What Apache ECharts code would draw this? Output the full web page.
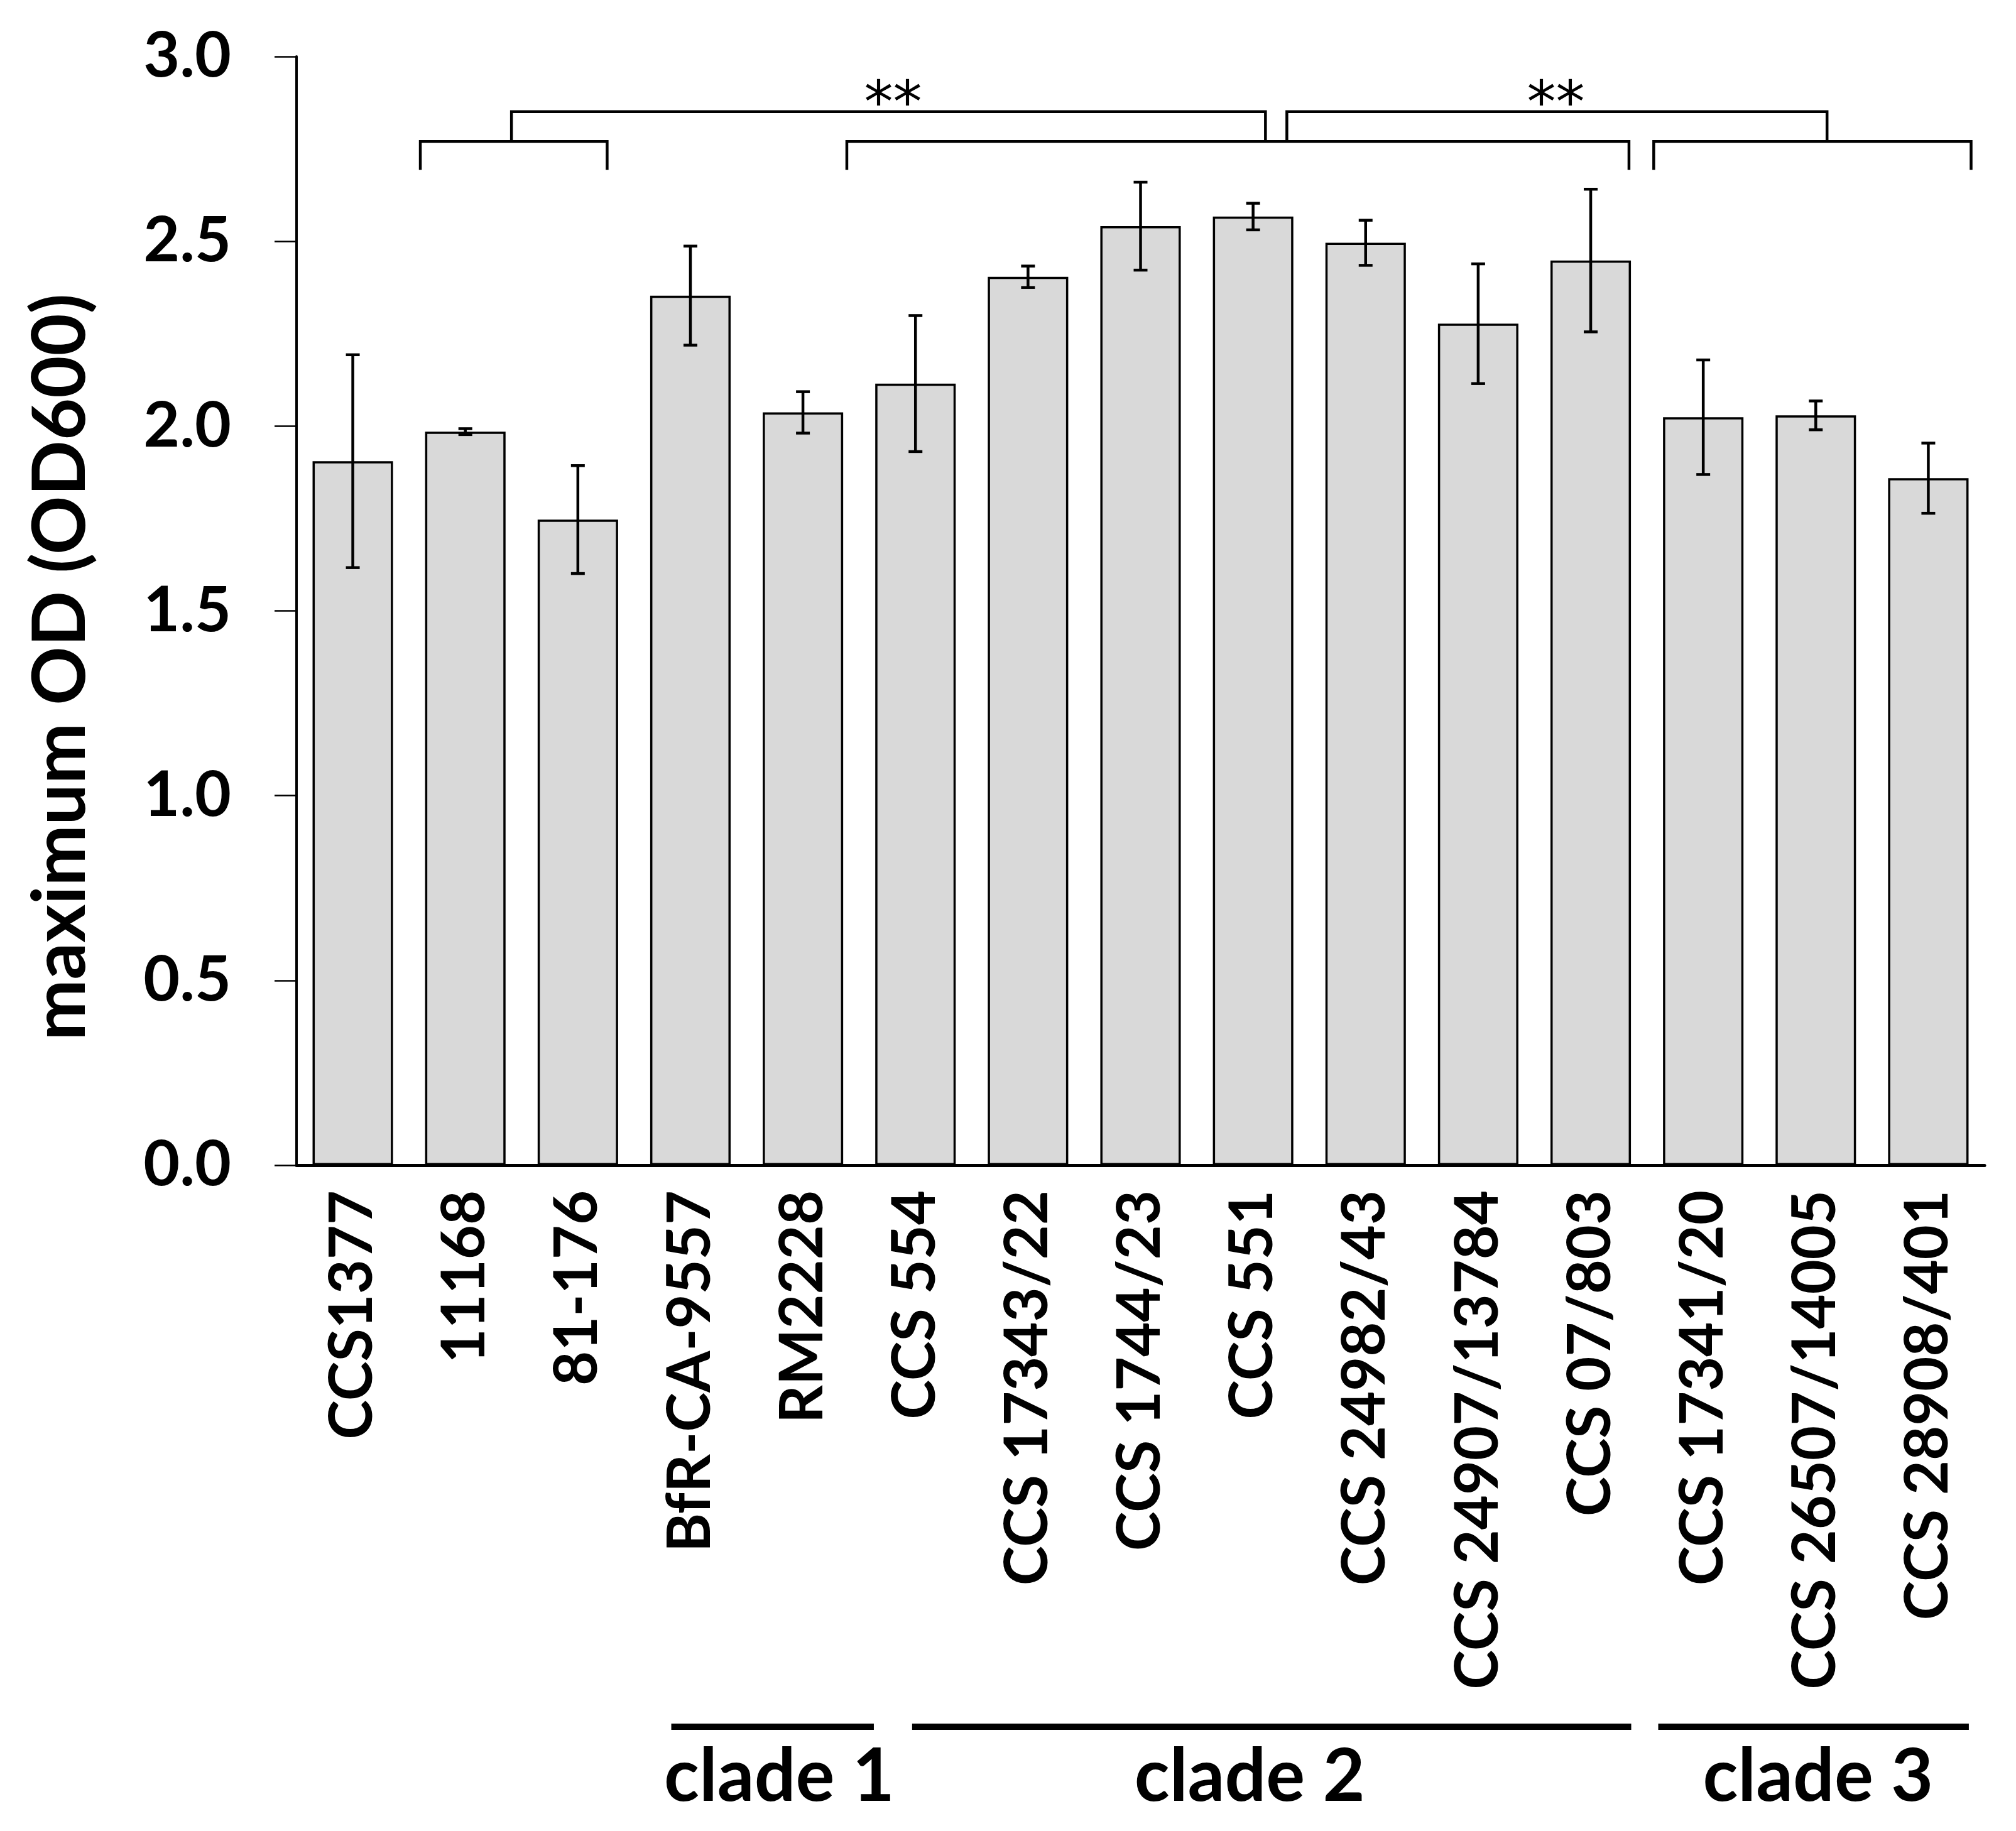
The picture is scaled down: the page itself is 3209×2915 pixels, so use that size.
<!DOCTYPE html>
<html>
<head>
<meta charset="utf-8">
<title>maximum OD</title>
<script src="https://cdn.jsdelivr.net/npm/echarts@6/dist/echarts.min.js"></script>
<style>
  html, body { margin: 0; padding: 0; background: #fff; }
  #chart { width: 3209px; height: 2915px; }
</style>
</head>
<body>
<div id="chart"></div>
<script>
// strains on the x axis
var strains = ['CCS1377', '11168', '81-176', 'BfR-CA-9557', 'RM2228', 'CCS 554', 'CCS 17343/22',
  'CCS 1744/23', 'CCS 551', 'CCS 24982/43', 'CCS 24907/13784', 'CCS 07/803', 'CCS 17341/20',
  'CCS 26507/14005', 'CCS 28908/401']
// mean maximum OD600 and its error
var maxOD = [1.905, 1.985, 1.747, 2.353, 2.037, 2.115, 2.404, 2.541, 2.567, 2.496, 2.277, 2.448, 2.024, 2.029, 1.859]
var errOD = [0.288, 0.008, 0.146, 0.134, 0.056, 0.184, 0.029, 0.119, 0.036, 0.061, 0.162, 0.193, 0.155, 0.039, 0.095]
var yTicks = [0, 0.5, 1.0, 1.5, 2.0, 2.5, 3.0]

// significance brackets, in category units along x and OD units along y
var bracketSpans = [[0.6, 2.26], [4.39, 11.34], [11.56, 14.38]]
var linkSpans = [[1.41, 8.11], [8.30, 13.10]]
var starPos = [4.80, 10.69]
var starText = ['**', '**']
var bracketLevel = 2.77
var bracketFoot = 2.693
var linkLevel = 2.851
var starLevel = 2.862

// clade groups under the labels
var cladeNames = ['clade 1', 'clade 2', 'clade 3']
var cladeSpans = [[2.83, 4.63], [4.97, 11.36], [11.6, 14.36]]
var cladeLabelAt = [3.79, 7.97, 13.02]

var FONT = 'Lato, "Liberation Sans", sans-serif'

function catX(api, t) {
  var a = api.coord([0, 0])[0]
  var b = api.coord([1, 0])[0]
  return a + t * (b - a)
}

var chart = echarts.init(document.getElementById('chart'))

chart.setOption({
  animation: false,
  backgroundColor: '#fff',
  grid: { left: 472, right: 50, top: 90, bottom: 1060, containLabel: false },
  xAxis: {
    type: 'category',
    data: strains,
    axisLine: { lineStyle: { color: '#000', width: 5 } },
    axisTick: { show: false },
    axisLabel: {
      interval: 0,
      rotate: 90,
      margin: 40,
      color: '#000',
      fontSize: 95,
      fontWeight: 'bold',
      fontFamily: FONT
    }
  },
  yAxis: {
    type: 'value',
    min: yTicks[0],
    max: yTicks[yTicks.length - 1],
    interval: 0.5,
    splitLine: { show: false },
    axisLine: { show: true, lineStyle: { color: '#000', width: 4 } },
    axisTick: { show: true, length: 35, lineStyle: { color: '#000', width: 2.5 } },
    axisLabel: {
      margin: 104,
      color: '#000',
      fontSize: 100,
      fontWeight: 'bold',
      fontFamily: FONT,
      formatter: function (v) { return v.toFixed(1) }
    }
  },
  series: [
    {
      type: 'bar',
      data: maxOD,
      barCategoryGap: '28.5%',
      itemStyle: { color: '#d9d9d9', borderColor: '#000', borderWidth: 3.5 }
    },
    {
      type: 'custom',
      data: maxOD.map(function (v, i) { return [i, v - errOD[i], v + errOD[i]] }),
      z: 3,
      renderItem: function (params, api) {
        var lo = api.coord([api.value(0), api.value(1)])
        var hi = api.coord([api.value(0), api.value(2)])
        var half = 11
        var st = { stroke: '#000', lineWidth: 4.5 }
        return {
          type: 'group',
          children: [
            { type: 'line', shape: { x1: hi[0], y1: hi[1], x2: lo[0], y2: lo[1] }, style: st },
            { type: 'line', shape: { x1: hi[0] - half, y1: hi[1], x2: hi[0] + half, y2: hi[1] }, style: st },
            { type: 'line', shape: { x1: lo[0] - half, y1: lo[1], x2: lo[0] + half, y2: lo[1] }, style: st }
          ]
        }
      }
    },
    {
      // lower brackets over the strain groups
      type: 'custom',
      data: bracketSpans,
      renderItem: function (params, api) {
        var x1 = catX(api, api.value(0))
        var x2 = catX(api, api.value(1))
        var yl = api.coord([0, bracketLevel])[1]
        var yf = api.coord([0, bracketFoot])[1]
        return {
          type: 'polyline',
          shape: { points: [[x1, yf], [x1, yl], [x2, yl], [x2, yf]] },
          style: { stroke: '#000', lineWidth: 4.5, fill: null }
        }
      }
    },
    {
      // upper links between brackets
      type: 'custom',
      data: linkSpans,
      renderItem: function (params, api) {
        var x1 = catX(api, api.value(0))
        var x2 = catX(api, api.value(1))
        var yt = api.coord([0, linkLevel])[1]
        var yb = api.coord([0, bracketLevel])[1]
        return {
          type: 'polyline',
          shape: { points: [[x1, yb], [x1, yt], [x2, yt], [x2, yb]] },
          style: { stroke: '#000', lineWidth: 4.5, fill: null }
        }
      }
    },
    {
      type: 'custom',
      data: starPos.map(function (p, i) { return [p, i] }),
      renderItem: function (params, api) {
        var x = catX(api, api.value(0))
        var y = api.coord([0, starLevel])[1]
        return {
          type: 'text',
          x: x,
          y: y,
          style: {
            text: starText[api.value(1)],
            fill: '#000',
            font: '92px "DejaVu Sans", sans-serif',
            align: 'center',
            verticalAlign: 'middle'
          }
        }
      }
    }
  ]
})

// clade lines and names below the strain labels, plus the y axis title
var p0 = chart.convertToPixel({ xAxisIndex: 0 }, 0)
var p1 = chart.convertToPixel({ xAxisIndex: 0 }, 1)
var step = p1 - p0
var axisY = chart.convertToPixel({ yAxisIndex: 0 }, 0)

var graphics = []
cladeSpans.forEach(function (s, i) {
  var xa = p0 + s[0] * step
  var xb = p0 + s[1] * step
  graphics.push({
    type: 'rect',
    shape: { x: xa, y: axisY + 889, width: xb - xa, height: 10 },
    style: { fill: '#000' }
  })
  graphics.push({
    type: 'text',
    x: p0 + cladeLabelAt[i] * step,
    y: axisY + 975,
    style: {
      text: cladeNames[i],
      fill: '#000',
      font: 'bold 116px ' + FONT,
      align: 'center',
      verticalAlign: 'middle'
    }
  })
})
graphics.push({
  type: 'text',
  x: 98,
  y: 1062,
  rotation: Math.PI / 2,
  style: {
    text: 'maximum OD (OD600)',
    fill: '#000',
    font: 'bold 116px ' + FONT,
    align: 'center',
    verticalAlign: 'middle'
  }
})
chart.setOption({ graphic: graphics })
</script>
</body>
</html>
